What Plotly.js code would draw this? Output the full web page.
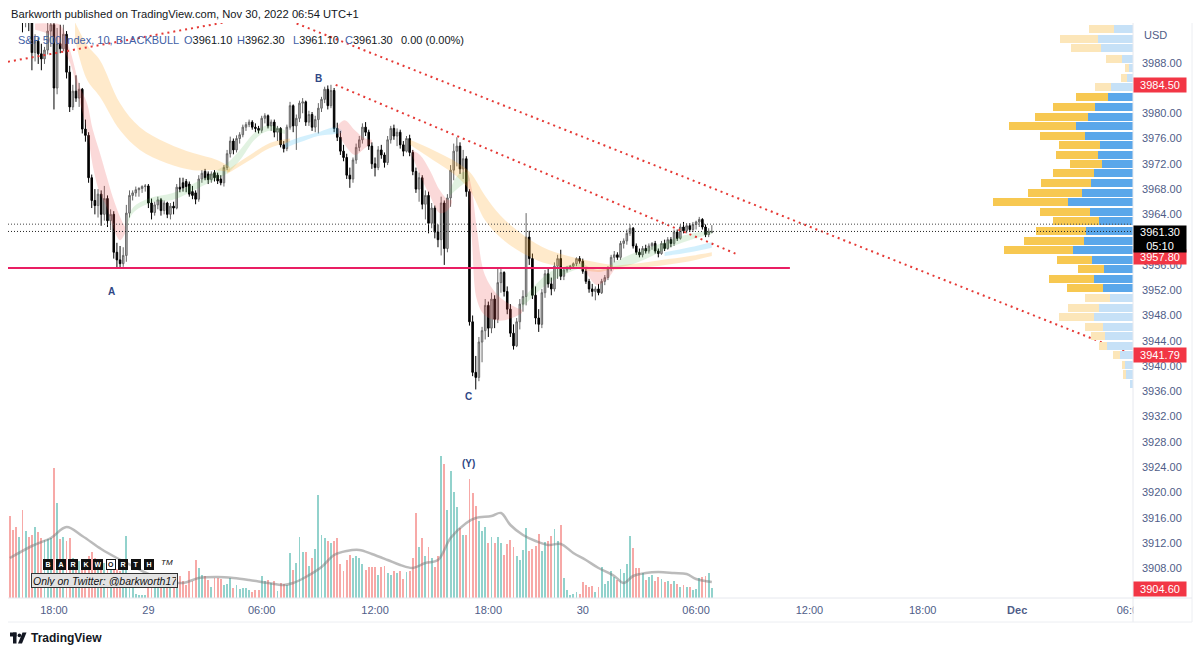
<!DOCTYPE html>
<html><head><meta charset="utf-8">
<script src="https://cdn.plot.ly/plotly-3.0.1.min.js"></script>
<style>html,body{margin:0;padding:0;background:#fff;}#chart{width:1200px;height:654px;}</style>
</head><body><div id="chart"></div>
<script>
// ---------- DATA (10-minute bars, first bar = 15:40 Nov 28, bar index 0 = 18:00) ----------
const firstBarIndex = -14;
const open = [
4001.0,3999.0,3997.2,3996.0,3998.2,3995.0,3997.5,3994.6,3989.6,3991.4,3989.4,3988.6,3990.0,3993.0,
3994.0,3984.0,3991.0,3990.2,3992.5,3986.5,3981.0,3983.5,3982.4,3983.8,
3977.5,3976.5,3969.8,3966.2,3965.4,3967.2,3964.0,3966.5,3963.0,3964.0,
3958.0,3956.8,3956.2,3957.5,3964.2,3967.0,3967.4,3967.9,3968.1,3968.4,
3968.5,3965.8,3964.3,3965.5,3966.3,3964.6,3965.8,3964.0,3965.3,3965.0,
3968.3,3969.0,3969.2,3968.8,3967.6,3967.4,3966.4,3969.6,3970.8,3970.4,
3969.5,3970.6,3970.2,3969.6,3969.0,3971.4,3973.6,3975.6,3974.2,3976.0,
3976.6,3977.8,3978.2,3978.6,3977.8,3977.6,3977.3,3979.2,3979.6,3978.0,
3978.6,3977.0,3977.6,3975.0,3974.4,3977.8,3981.2,3978.0,3979.2,3981.6,
3981.8,3978.6,3979.8,3977.8,3979.0,3980.8,3982.2,3983.8,3981.2,3983.6,
3977.6,3976.2,3974.0,3973.0,3970.2,3969.6,3972.6,3974.6,3975.8,3977.8,
3977.0,3974.8,3972.0,3971.4,3974.2,3973.4,3972.2,3975.8,3977.6,3976.4,
3977.0,3975.0,3974.0,3976.0,3973.8,3970.8,3968.0,3969.8,3965.6,3967.0,
3962.6,3965.0,3961.2,3960.0,3965.8,3958.6,3966.6,3971.0,3974.0,3974.8,
3971.2,3972.8,3967.6,3947.0,3939.0,3938.2,3943.8,3945.6,3949.6,3946.0,
3950.6,3947.4,3953.2,3954.8,3951.8,3949.0,3945.2,3943.2,3947.0,3949.8,
3951.0,3960.4,3957.0,3951.2,3947.6,3946.6,3951.6,3954.6,3953.0,3952.2,
3955.8,3957.0,3954.2,3955.2,3955.6,3955.8,3956.2,3957.0,3956.6,3955.0,
3953.4,3952.2,3951.8,3952.2,3951.6,3953.4,3954.0,3955.4,3957.2,3957.6,
3957.2,3959.4,3959.8,3961.0,3961.8,3959.0,3958.0,3957.6,3958.6,3958.2,
3959.0,3959.4,3958.2,3957.8,3959.4,3958.6,3960.0,3959.4,3961.2,3960.2,
3962.0,3961.4,3962.2,3961.6,3962.4,3962.8,3963.2,3962.0,3960.8,3961.1];
const high = [
4003.5,4000.5,3999.5,3999.0,3999.0,3998.5,3998.0,3995.8,3992.5,3992.0,3991.0,3990.5,3994.3,3995.5,
3995.0,3993.5,3994.0,3994.0,3993.0,3987.5,3984.5,3986.0,3984.8,3984.0,
3979.0,3977.0,3970.3,3968.0,3968.0,3967.8,3968.5,3967.0,3964.8,3964.5,
3959.5,3959.0,3958.8,3965.5,3967.8,3967.8,3968.4,3968.3,3968.6,3968.8,
3968.8,3966.5,3966.0,3966.8,3966.6,3966.2,3966.0,3965.8,3966.0,3968.8,
3969.8,3969.8,3969.6,3969.2,3968.5,3967.8,3970.2,3971.0,3971.2,3970.8,
3970.8,3971.0,3970.6,3970.2,3971.8,3974.2,3976.3,3976.0,3976.5,3977.0,
3978.2,3978.6,3979.0,3978.9,3978.4,3978.0,3979.6,3980.0,3979.8,3979.0,
3979.0,3978.0,3977.8,3975.6,3978.2,3981.8,3981.4,3979.8,3982.0,3982.4,
3982.0,3980.4,3980.2,3979.6,3981.6,3982.6,3984.2,3984.4,3984.5,3984.0,
3978.5,3977.2,3975.0,3973.6,3971.4,3973.0,3975.2,3976.4,3978.4,3978.6,
3977.4,3975.4,3973.0,3974.8,3975.0,3973.8,3976.4,3978.0,3978.2,3977.6,
3977.4,3975.6,3976.4,3976.6,3974.2,3971.4,3970.6,3970.2,3967.8,3967.6,
3965.8,3965.4,3962.4,3966.8,3966.2,3967.2,3971.8,3975.2,3976.2,3975.4,
3974.2,3973.2,3968.0,3948.0,3941.6,3944.6,3946.2,3950.6,3950.2,3951.6,
3951.2,3955.6,3955.6,3955.0,3952.6,3949.8,3946.6,3947.6,3950.6,3952.0,
3964.2,3961.4,3957.8,3952.6,3949.0,3952.2,3955.2,3955.4,3954.0,3956.4,
3957.6,3958.4,3955.6,3955.8,3956.0,3956.4,3957.2,3957.4,3957.0,3955.4,
3953.8,3953.0,3952.6,3953.0,3953.8,3954.4,3955.8,3957.6,3958.2,3958.0,
3959.8,3960.2,3961.6,3962.4,3962.0,3959.4,3958.6,3959.0,3959.2,3959.4,
3959.6,3959.8,3958.6,3959.8,3960.0,3960.4,3960.4,3961.6,3961.6,3962.4,
3962.8,3962.6,3962.6,3962.8,3963.0,3963.6,3963.4,3962.4,3961.8,3962.3];
const low = [
3998.5,3996.0,3994.8,3995.2,3992.8,3993.6,3993.0,3986.8,3988.2,3987.8,3986.8,3987.8,3989.3,3990.5,
3980.6,3983.0,3989.5,3989.8,3985.5,3980.2,3980.5,3981.8,3981.0,3976.8,
3975.5,3969.0,3965.0,3964.0,3963.5,3962.2,3963.0,3962.0,3961.5,3957.0,
3955.5,3955.6,3955.7,3956.5,3963.5,3966.2,3966.8,3966.8,3967.4,3967.6,
3965.0,3963.2,3963.8,3964.8,3963.8,3964.0,3963.4,3963.2,3964.0,3964.8,
3967.5,3967.6,3967.5,3966.8,3966.4,3965.6,3966.0,3969.0,3969.4,3968.8,
3969.0,3969.2,3968.8,3968.6,3968.4,3971.0,3973.0,3973.5,3973.8,3975.2,
3976.2,3977.2,3977.8,3977.4,3977.0,3976.8,3976.9,3978.4,3977.6,3977.2,
3976.2,3975.6,3974.6,3973.8,3974.0,3977.4,3977.0,3974.2,3978.6,3980.0,
3978.0,3978.0,3977.2,3977.0,3976.8,3980.2,3981.6,3980.6,3980.8,3977.0,
3975.6,3973.4,3972.4,3969.6,3968.2,3969.0,3972.0,3974.0,3975.2,3976.4,
3974.2,3971.2,3970.0,3971.0,3972.8,3971.4,3971.8,3975.2,3975.8,3974.8,
3974.4,3973.2,3973.8,3973.2,3970.2,3967.4,3966.0,3964.8,3963.2,3961.0,
3961.8,3960.2,3958.8,3957.5,3956.0,3958.0,3965.2,3969.4,3971.6,3970.4,
3969.6,3966.8,3946.4,3938.4,3936.3,3937.6,3940.6,3944.2,3944.6,3945.2,
3946.0,3946.8,3951.6,3951.0,3948.2,3944.6,3942.6,3943.0,3945.8,3948.6,
3949.6,3956.0,3950.6,3946.6,3945.4,3946.0,3950.8,3952.4,3951.2,3951.8,
3953.8,3953.6,3953.6,3954.8,3955.2,3955.4,3955.8,3956.2,3954.6,3953.0,
3951.6,3951.0,3950.4,3951.2,3951.4,3952.8,3953.6,3955.0,3956.4,3956.8,
3956.8,3958.6,3959.2,3960.6,3958.6,3957.6,3957.2,3957.2,3957.8,3957.8,
3958.4,3957.8,3957.2,3957.6,3958.2,3958.4,3958.8,3959.0,3959.8,3960.0,
3961.0,3961.0,3961.2,3961.2,3961.6,3962.0,3961.6,3960.4,3960.4,3961.1];
const close = [
3999.0,3997.2,3996.0,3998.2,3995.0,3997.5,3994.6,3989.6,3991.4,3989.4,3988.6,3990.0,3993.0,3994.0,
3984.0,3991.0,3990.2,3992.5,3986.5,3981.0,3983.5,3982.4,3983.8,3977.5,
3976.5,3969.8,3966.2,3965.4,3967.2,3964.0,3966.5,3963.0,3964.0,3958.0,
3956.8,3956.2,3957.5,3964.2,3967.0,3967.4,3967.9,3968.1,3968.4,3968.5,
3965.8,3964.3,3965.5,3966.3,3964.6,3965.8,3964.0,3965.3,3965.0,3968.3,
3968.0,3968.2,3968.4,3967.2,3967.0,3966.4,3969.6,3970.5,3969.8,3969.5,
3970.4,3969.8,3969.3,3969.0,3971.4,3973.6,3975.6,3974.2,3976.0,3976.6,
3977.8,3978.2,3978.6,3977.8,3977.6,3977.3,3979.2,3979.6,3978.0,3978.6,
3977.0,3977.6,3975.0,3974.4,3977.8,3981.2,3978.0,3979.2,3981.6,3981.8,
3978.6,3979.8,3977.8,3979.0,3980.8,3982.2,3983.8,3981.2,3983.6,3977.6,
3976.2,3974.0,3973.0,3970.2,3969.6,3972.6,3974.6,3975.8,3977.8,3977.0,
3974.8,3972.0,3971.4,3974.2,3973.4,3972.2,3975.8,3977.6,3976.4,3977.0,
3975.0,3974.0,3976.0,3973.8,3970.8,3968.0,3969.8,3965.6,3967.0,3962.6,
3965.0,3961.2,3960.0,3965.8,3958.6,3966.6,3971.0,3974.0,3974.8,3971.2,
3972.8,3967.6,3947.0,3939.0,3938.2,3943.8,3945.6,3949.6,3946.0,3950.6,
3947.4,3953.2,3954.8,3951.8,3949.0,3945.2,3943.2,3947.0,3949.8,3951.0,
3960.4,3957.0,3951.2,3947.6,3946.6,3951.6,3954.6,3953.0,3952.2,3955.8,
3957.0,3954.2,3955.2,3955.6,3955.8,3956.2,3957.0,3956.6,3955.0,3953.4,
3952.2,3951.8,3952.2,3951.6,3953.4,3954.0,3955.4,3957.2,3957.6,3957.2,
3959.4,3959.8,3961.0,3961.8,3959.0,3958.0,3957.6,3958.6,3958.2,3959.0,
3959.4,3958.2,3957.8,3959.4,3958.6,3960.0,3959.4,3961.2,3960.2,3962.0,
3961.4,3962.2,3961.6,3962.4,3962.8,3963.2,3962.0,3960.8,3961.3,3961.3];
const volume = [
82,68,71,61,88,67,61,63,71,66,60,58,59,60,
130,95,59,61,57,60,40,37,37,35,
39,42,46,40,37,37,35,29,30,32,
29,27,30,62,23,10,4,3,3,3,
18,25,10,23,20,25,17,17,17,25,
22,17,13,27,17,38,30,23,22,18,
11,20,20,19,13,14,20,10,13,9,
10,10,8,6,8,8,22,17,18,15,
17,7,15,14,13,45,28,35,61,46,
46,32,40,49,103,63,60,57,55,57,
60,34,27,38,43,40,42,40,34,28,
31,31,31,23,31,32,25,23,27,25,
27,19,26,27,40,85,51,60,42,51,
40,31,42,142,134,88,127,106,91,70,
63,63,119,105,92,77,67,71,55,61,
55,61,55,43,54,58,51,42,38,48,
70,47,49,52,64,47,56,57,62,69,
57,73,20,8,3,4,6,4,16,13,
11,12,6,11,31,14,17,27,21,18,
29,25,34,62,50,30,30,25,18,21,
23,17,21,19,16,17,14,17,14,11,
13,11,11,8,9,20,21,22,25,10];
// volume moving average
const volMaBar = [-14,-7,-1,4,9,15,20,25,30,36,41,46,52,57,62,68,73,76,80,85,89,93,97,101,106,110,114,118,122,126,131,134,139,142,145,149,153,157,161,165,169,173,178,181,184,188,192,197,201,204,209];
const volMaVal = [40,52,60,71,62,49,40,32,24,17,15,20,21,20,18,15,13,15,21,31,43,47,48,44,38,33,30,35,38,60,75,80,82,85,73,63,57,53,54,45,38,30,22,15,22,25,26,25,24,19,16];
// time axis
const tickBars = [0,30,66,102,138,168,204,240,276,306,342];
const tickLabels = ['18:00','29','06:00','12:00','18:00','30','06:00','12:00','18:00','<b>Dec</b>','06:00'];
// price ticks shown (3904, 3960 and 3984 are hidden behind the price labels)
const priceTicks = [3908,3912,3916,3920,3924,3928,3932,3936,3940,3944,3948,3952,3956,3964,3968,3972,3976,3980,3988];
// volume profile (visible range)
const vpPrice = [3993.33,3991.75,3990.28,3988.63,3987.16,3985.58,3984.11,3982.53,3980.94,3979.46,3977.98,3976.45,3974.98,3973.44,3971.97,3970.5,3968.97,3967.43,3965.91,3964.42,3962.9,3961.37,3959.79,3958.32,3956.83,3955.36,3953.82,3952.3,3950.77,3949.23,3947.76,3946.24,3944.72,3943.2,3941.69,3940.17,3938.65,3937.13];
const vpUp = [19.3,35.3,32,11,4.3,6,22,25,37.7,45,57,47.7,33.3,35.3,31,39.3,42,51,65.3,43.3,33.7,47,48.7,60,41,28.7,39.3,30,22.7,34.3,39.3,30,28,26,13,8,7,3];
const vpDown = [25,38,29.7,15.7,4,5.7,15.7,32,42.7,52.7,66.7,45,40.3,41.7,31.7,41,50,54,74.7,49.3,46.3,49.7,60.7,68.7,35,26.7,45,36,25.7,31,35,18,14,8,7,3,3,0];
const vpValueArea = [0,0,0,0,0,0,0,1,1,1,1,1,1,1,1,1,1,1,1,1,1,1,1,1,1,1,1,1,0,0,0,0,0,0,0,0,0,0];
// EMA-cloud ribbons (bar index, upper, lower)
const ribbons = [
 {c:'pink',  x:[-6.0,-1.3,1.9,5.1,8.3,10.5,12.4,14.6,16.8,18.7,21.0,22.6], hi:[3994.2,3994.2,3994.0,3990.0,3984.1,3981.6,3977.3,3973.7,3969.9,3966.7,3963.6,3962.0], lo:[3993.2,3992.4,3990.8,3988.0,3981.6,3977.3,3971.5,3967.3,3965.1,3962.0,3959.9,3961.0]},
 {c:'green', x:[23.2,25.1,30.5,37.8,46.4,55.0,59.1,63.9,68.0,73.4], hi:[3962.6,3965.1,3966.6,3967.4,3969.4,3972.1,3974.2,3977.0,3978.1,3977.3], lo:[3962.0,3964.2,3965.8,3966.3,3968.3,3970.5,3972.6,3975.9,3977.2,3976.7]},
 {c:'orange',x:[6.7,10.5,14.6,21.0,27.3,35.9,44.2,51.8,55.9], hi:[3994.4,3990.8,3988.4,3981.6,3977.8,3975.3,3973.7,3972.6,3971.5], lo:[3991.6,3985.3,3982.6,3977.3,3974.2,3972.1,3971.0,3971.0,3970.7]},
 {c:'orange',x:[55.0,62.3,68.6,75.0], hi:[3971.0,3973.4,3975.3,3976.0], lo:[3970.4,3972.6,3974.5,3975.4]},
 {c:'blue',  x:[73.4,78.1,83.9,89.3,91.5], hi:[3975.3,3976.2,3977.0,3977.8,3977.3], lo:[3974.5,3975.4,3976.4,3976.7,3976.9]},
 {c:'pink',  x:[90.2,92.4,95.6,98.8,101.0], hi:[3978.1,3978.9,3977.3,3976.0,3975.8], lo:[3977.0,3975.0,3973.4,3974.5,3975.3]},
 {c:'pink',  x:[113.7,116.3,119.4,122.6,125.2,126.4], hi:[3974.2,3973.4,3971.0,3967.8,3966.3,3966.3], lo:[3973.4,3970.2,3967.0,3964.2,3964.7,3965.8]},
 {c:'orange',x:[113.1,120.4,126.7,132.1,136.9,141.7,147.1,155.3,164.9,173.4,177.6], hi:[3975.8,3974.2,3972.6,3970.7,3967.0,3963.9,3961.5,3958.8,3957.2,3956.3,3956.0], lo:[3975.0,3972.6,3970.5,3967.8,3963.1,3960.4,3958.4,3956.4,3955.5,3954.9,3955.5]},
 {c:'green', x:[125.8,128.3,130.9,132.1], hi:[3967.8,3970.2,3970.7,3969.6], lo:[3967.0,3968.1,3969.1,3969.3]},
 {c:'pink',  x:[131.5,132.8,134.4,136.9,141.0,145.5,148.7], hi:[3970.7,3967.8,3961.5,3954.4,3951.2,3949.6,3948.9], lo:[3970.0,3959.9,3950.4,3948.0,3947.2,3947.6,3948.4]},
 {c:'green', x:[148.7,152.8,157.6,163.9,168.7], hi:[3950.5,3952.8,3954.9,3956.0,3956.3], lo:[3949.3,3951.3,3953.3,3954.9,3955.7]},
 {c:'pink',  x:[168.7,172.5,176.0,177.9], hi:[3956.0,3955.2,3955.5,3955.5], lo:[3955.2,3952.8,3953.9,3955.2]},
 {c:'orange',x:[177.6,189.3,202.0,209.0], hi:[3955.8,3956.5,3957.4,3958.0], lo:[3955.2,3955.7,3956.6,3957.4]},
 {c:'green', x:[177.3,183.0,188.7,194.1,199.5,205.2,209.0], hi:[3956.3,3957.6,3958.7,3959.6,3960.6,3961.2,3961.5], lo:[3955.5,3956.0,3957.1,3958.4,3959.5,3960.4,3960.9]},
 {c:'blue',  x:[194.0,202.0,209.0], hi:[3958.0,3958.8,3959.6], lo:[3957.4,3958.0,3958.7]}
];
// drawings
const trendUpX = [-14.6, 60], trendUpY = [3988.15, 3994.9];
const trendDownX = [70, 342.8], trendDownY = [3995.6, 3941.79];
const trendBX = [89.5, 216.5], trendBY = [3984.5, 3957.8];
const supportX = [-14.6, 233.8], supportY = [3955.5, 3955.5];
const highLine = 3962.45;
const otherLevel = 3904.6;
const countdown = '05:10';

// ---------- LAYOUT HELPERS ----------
const FONT = 'Liberation Sans, Arial, sans-serif';
const L = 8, R = 1133, T = 23, B = 598;
const px = x => (x - L) / (R - L);
const py = y => (B - y) / (B - T);
const bars = close.map((_, i) => i + firstBarIndex);
const last = close.length - 1;
const upVol = 'rgba(38,166,154,0.5)', dnVol = 'rgba(239,83,80,0.5)';
const ribbonColor = {pink:'rgba(239,83,80,0.22)', orange:'rgba(255,167,38,0.24)', green:'rgba(76,175,80,0.17)', blue:'rgba(79,195,247,0.25)'};

const traces = [];
ribbons.forEach(r => {
  traces.push({type:'scatter', mode:'lines', x:r.x, y:r.lo, line:{width:0, shape:'spline'}, hoverinfo:'skip'});
  traces.push({type:'scatter', mode:'lines', x:r.x, y:r.hi, line:{width:0, shape:'spline'}, fill:'tonexty', fillcolor:ribbonColor[r.c], hoverinfo:'skip'});
});
traces.push({type:'candlestick', x:bars, open:open, high:high, low:low, close:close,
  increasing:{line:{color:'#666666', width:1}, fillcolor:'#b9b9b9'},
  decreasing:{line:{color:'#000000', width:1}, fillcolor:'#000000'},
  whiskerwidth:0, hoverinfo:'skip'});
traces.push({type:'scatter', mode:'lines', x:supportX, y:supportY, line:{color:'#e91e63', width:2}});
const dotted = {color:'#e53935', width:2, dash:'2px,4px'};
traces.push({type:'scatter', mode:'lines', x:trendUpX, y:trendUpY, line:dotted});
traces.push({type:'scatter', mode:'lines', x:trendDownX, y:trendDownY, line:dotted});
traces.push({type:'scatter', mode:'lines', x:trendBX, y:trendBY, line:dotted});
traces.push({type:'bar', x:bars, y:volume, yaxis:'y2', width:0.6,
  marker:{color:close.map((c,i)=> c >= open[i] ? upVol : dnVol), line:{width:0}}});
traces.push({type:'scatter', mode:'lines', x:volMaBar, y:volMaVal, yaxis:'y2', line:{color:'rgba(120,120,120,0.5)', width:2.5, shape:'spline'}});
traces.push({type:'bar', orientation:'h', y:vpPrice, x:vpUp, xaxis:'x2', width:1.3,
  marker:{color:vpValueArea.map(v=> v ? '#5aa7ea' : '#c6e1f7'), line:{width:0}}});
traces.push({type:'bar', orientation:'h', y:vpPrice, x:vpDown, xaxis:'x2', width:1.3,
  marker:{color:vpValueArea.map(v=> v ? '#f7c851' : '#fce6b9'), line:{width:0}}});

const axisTxt = '#4f5d88';
const ann = [];
function A(text, x, y, o) { ann.push(Object.assign({text, xref:'paper', yref:'paper', x:px(x), y:py(y), showarrow:false, xanchor:'left', yanchor:'middle', font:{family:FONT, size:11, color:'#131722'}}, o||{})); }
A('Barkworth published on TradingView.com, Nov 30, 2022 06:54 UTC+1', 9, 14, {font:{family:FONT, size:11.2, color:'#131722'}});
const leg = {family:FONT, size:11, color:'#3f5fa6'};
A('S&amp;P 500 Index, 10, BLACKBULL', 16, 40, {font:leg});
const chg = close[last] - close[last-1];
const ohlc = [['O', open[last], 182], ['H', high[last], 235], ['L', low[last], 291], ['C', close[last], 343]];
ohlc.forEach(([k,v,x]) => A('<span style="color:#3f5fa6">'+k+'</span>'+v.toFixed(2), x, 40));
A(chg.toFixed(2)+' ('+(chg/close[last-1]*100).toFixed(2)+'%)', 399, 40);
const lab = {family:FONT, size:10, color:'#2f4785', weight:700};
A('A', 111, 291, {font:lab, xanchor:'center'});
A('B', 318, 79, {font:lab, xanchor:'center'});
A('C', 468, 397, {font:lab, xanchor:'center'});
A('(Y)', 468, 463, {font:lab, xanchor:'center'});
A('USD', 1142, 35, {font:{family:FONT, size:11, color:axisTxt}});
// price labels on the axis
function P(text, price, bg, o) { ann.push(Object.assign({text, xref:'paper', yref:'y', x:1, y:price, showarrow:false, xanchor:'left', yanchor:'middle', bgcolor:bg, borderpad:1, width:50, height:12, align:'center', font:{family:FONT, size:11, color:'#ffffff'}}, o||{})); }
P(trendBY[0].toFixed(2), trendBY[0], '#f23645');
P(trendBY[1].toFixed(2), trendBY[1], '#f23645', {yshift:-3});
P(trendDownY[1].toFixed(2), trendDownY[1], '#f23645');
P(otherLevel.toFixed(2), otherLevel, '#f23645', {yshift:1});
P(close[last].toFixed(2)+'<br>'+countdown, close[last], '#000000', {yanchor:'top', yshift:6, height:24});
// watermark
const letters = ['B','A','R','K','W','O','R','T','H'];
const letterX = [48.3,60.7,73.3,85.7,98.3,111,123.3,136,149];
letters.forEach((ch,i) => A('<b>'+ch+'</b>', letterX[i], 564, {xanchor:'center', width:7, height:8, borderpad:0.5,
  bgcolor: ch==='O' && i===5 ? '#ffffff' : '#111111', bordercolor:'#111111', borderwidth:1,
  font:{family:FONT, size:7, color: ch==='O' && i===5 ? '#111111' : '#ffffff'}}));
A('<i>TM</i>', 159, 562, {font:{family:FONT, size:8, color:'#111'}});
A('<i>Only on Twitter: @barkworth17</i>', 31, 580, {bgcolor:'#e3e3e3', bordercolor:'#333333', borderwidth:1, borderpad:1, width:143, height:11, align:'left', font:{family:FONT, size:10.5, color:'#111'}});
A('TradingView', 29, 638, {font:{family:FONT, size:12, color:'#131722', weight:600}});

const shapes = [
  {type:'line', xref:'paper', yref:'y', x0:0, x1:1, y0:highLine, y1:highLine, line:{color:'#444', width:1, dash:'1px,2px'}, layer:'above'},
  {type:'line', xref:'paper', yref:'y', x0:0, x1:1, y0:close[last], y1:close[last], line:{color:'#222', width:1, dash:'1px,2px'}, layer:'above'},
  {type:'rect', xref:'paper', yref:'paper', x0:px(1133.5), x1:px(1191.5), y0:py(621.5), y1:py(598.5), fillcolor:'#ffffff', line:{width:0}, layer:'above'},
  {type:'line', xref:'paper', yref:'paper', x0:px(1133), x1:px(1133), y0:py(23), y1:py(622), line:{color:'#e6e8ee', width:1}},
  {type:'line', xref:'paper', yref:'paper', x0:px(1192), x1:px(1192), y0:py(23), y1:py(622), line:{color:'#eceef2', width:1}},
  {type:'line', xref:'paper', yref:'paper', x0:px(8), x1:px(1192), y0:py(598), y1:py(598), line:{color:'#e6e8ee', width:1}},
  {type:'line', xref:'paper', yref:'paper', x0:px(8), x1:px(1192), y0:py(622), y1:py(622), line:{color:'#eceef2', width:1}},
  // TradingView logo
  {type:'rect', xref:'paper', yref:'paper', x0:px(10), x1:px(16.5), y0:py(636.5), y1:py(632.5), fillcolor:'#131722', line:{width:0}},
  {type:'rect', xref:'paper', yref:'paper', x0:px(13), x1:px(16.5), y0:py(643.5), y1:py(632.5), fillcolor:'#131722', line:{width:0}},
  {type:'circle', xref:'paper', yref:'paper', x0:px(17.6), x1:px(21.2), y0:py(637.2), y1:py(633.6), fillcolor:'#131722', line:{width:0}},
  {type:'path', xref:'paper', yref:'paper', path:`M ${px(22.5)} ${py(632.5)} L ${px(26.5)} ${py(632.5)} L ${px(22)} ${py(643.5)} L ${px(18)} ${py(643.5)} Z`, fillcolor:'#131722', line:{width:0}}
];

const layout = {
  width:1200, height:654, margin:{l:L, r:1200-R, t:T, b:654-B},
  paper_bgcolor:'#ffffff', plot_bgcolor:'#ffffff', showlegend:false, hovermode:false, barmode:'stack',
  xaxis:{range:[-14.6, 342.8], tickvals:tickBars, ticktext:tickLabels, showgrid:false, zeroline:false, showline:false,
    ticks:'', ticklabelstandoff:4, tickfont:{family:FONT, size:11, color:axisTxt}, rangeslider:{visible:false}, automargin:false, fixedrange:true},
  yaxis:{range:[3903.3, 3994.28], side:'right', tickvals:priceTicks, tickformat:'.2f', showgrid:false, zeroline:false, showline:false,
    ticks:'', ticklabelstandoff:8, tickfont:{family:FONT, size:11, color:axisTxt}, automargin:false, fixedrange:true},
  yaxis2:{overlaying:'y', range:[0, 575], visible:false, fixedrange:true},
  xaxis2:{overlaying:'x', anchor:'y', range:[R-L, 0], visible:false, fixedrange:true},
  annotations:ann, shapes:shapes
};
Plotly.newPlot('chart', traces, layout, {staticPlot:true, displayModeBar:false});
</script></body></html>
